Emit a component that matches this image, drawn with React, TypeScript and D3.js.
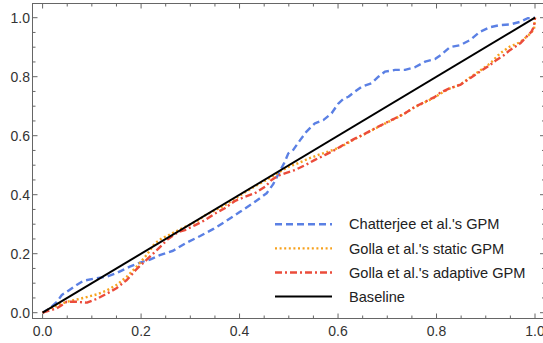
import React, { useEffect, useRef } from "react";
import * as d3 from "d3";

const chatterjee: [number, number][] = [
  [0, 0], [0.015, 0.015], [0.029, 0.037], [0.039, 0.06], [0.049, 0.071], [0.069, 0.094],
  [0.083, 0.108], [0.103, 0.115], [0.13, 0.122], [0.15, 0.134], [0.177, 0.156], [0.198, 0.17],
  [0.218, 0.18], [0.238, 0.195], [0.265, 0.21], [0.293, 0.238], [0.32, 0.26], [0.347, 0.284],
  [0.374, 0.312], [0.401, 0.342], [0.428, 0.372], [0.455, 0.405], [0.468, 0.435], [0.479, 0.47],
  [0.492, 0.512], [0.499, 0.54], [0.509, 0.552], [0.523, 0.585], [0.536, 0.614], [0.553, 0.642],
  [0.57, 0.653], [0.587, 0.676], [0.6, 0.708], [0.611, 0.725], [0.621, 0.732], [0.634, 0.749],
  [0.648, 0.766], [0.668, 0.778], [0.682, 0.8], [0.695, 0.817], [0.716, 0.823], [0.736, 0.823],
  [0.756, 0.832], [0.777, 0.851], [0.797, 0.86], [0.81, 0.875], [0.827, 0.9], [0.848, 0.907],
  [0.868, 0.924], [0.888, 0.952], [0.909, 0.968], [0.929, 0.975], [0.949, 0.977], [0.97, 0.986],
  [0.985, 0.998], [1, 1],
];

const gollaStatic: [number, number][] = [
  [0, 0], [0.022, 0.02], [0.049, 0.037], [0.083, 0.05], [0.11, 0.062], [0.13, 0.075],
  [0.15, 0.094], [0.171, 0.122], [0.191, 0.156], [0.211, 0.195], [0.228, 0.235], [0.242, 0.252],
  [0.255, 0.262], [0.276, 0.28], [0.296, 0.296], [0.316, 0.313], [0.33, 0.33], [0.35, 0.347],
  [0.37, 0.364], [0.39, 0.385], [0.408, 0.405], [0.431, 0.428], [0.455, 0.45], [0.479, 0.475],
  [0.499, 0.494], [0.519, 0.507], [0.54, 0.522], [0.56, 0.535], [0.58, 0.546], [0.6, 0.558],
  [0.614, 0.57], [0.634, 0.589], [0.655, 0.606], [0.675, 0.624], [0.695, 0.641], [0.716, 0.658],
  [0.736, 0.676], [0.756, 0.697], [0.777, 0.714], [0.797, 0.73], [0.807, 0.742], [0.827, 0.76],
  [0.848, 0.773], [0.868, 0.797], [0.888, 0.82], [0.909, 0.845], [0.929, 0.879], [0.949, 0.902],
  [0.97, 0.917], [0.987, 0.941], [0.998, 0.96], [1, 1],
];

const gollaAdaptive: [number, number][] = [
  [0, 0], [0.029, 0.015], [0.049, 0.037], [0.069, 0.037], [0.09, 0.034], [0.11, 0.047],
  [0.13, 0.064], [0.15, 0.083], [0.171, 0.111], [0.191, 0.148], [0.211, 0.179], [0.232, 0.212],
  [0.255, 0.25], [0.276, 0.274], [0.289, 0.28], [0.31, 0.297], [0.33, 0.314], [0.35, 0.336],
  [0.37, 0.354], [0.39, 0.378], [0.411, 0.393], [0.431, 0.405], [0.452, 0.427], [0.465, 0.45],
  [0.479, 0.465], [0.492, 0.472], [0.513, 0.484], [0.533, 0.5], [0.553, 0.518], [0.574, 0.535],
  [0.594, 0.552], [0.614, 0.572], [0.634, 0.59], [0.655, 0.607], [0.675, 0.625], [0.695, 0.642],
  [0.716, 0.659], [0.736, 0.676], [0.756, 0.698], [0.777, 0.715], [0.797, 0.732], [0.807, 0.745],
  [0.827, 0.761], [0.848, 0.772], [0.868, 0.795], [0.888, 0.817], [0.909, 0.84], [0.922, 0.857],
  [0.936, 0.872], [0.949, 0.89], [0.97, 0.913], [0.983, 0.936], [0.993, 0.953], [0.998, 0.97],
  [1, 1],
];

const baseline: [number, number][] = [[0, 0], [1, 1]];

const tickLabels = ["0.0", "0.2", "0.4", "0.6", "0.8", "1.0"];

const series = [
  { label: "Chatterjee et al.'s GPM", data: chatterjee, color: "#5b80e4", dash: "7,4", width: 2.4 },
  { label: "Golla et al.'s static GPM", data: gollaStatic, color: "#f7a21e", dash: "2,2.6", width: 2.4 },
  { label: "Golla et al.'s adaptive GPM", data: gollaAdaptive, color: "#eb4c3b", dash: "7,3,2,3", width: 2.4 },
  { label: "Baseline", data: baseline, color: "#000", dash: null, width: 2 },
];

const W = 543;
const H = 343;

export default function App() {
  const svgRef = useRef<SVGSVGElement>(null);

  useEffect(() => {
    if (!svgRef.current) return;
    const svg = d3.select(svgRef.current);
    svg.selectAll("*").remove();

    const x = d3.scaleLinear().domain([0, 1]).range([42.6, 535]);
    const y = d3.scaleLinear().domain([0, 1]).range([312.7, 17.7]);

    const frame = { left: 32.5, top: 3.5, right: 545, bottom: 318.5 };
    const axisColor = "#666";
    const font = "'Liberation Sans', Arial, sans-serif";

    // frame
    svg
      .append("rect")
      .attr("x", frame.left)
      .attr("y", frame.top)
      .attr("width", frame.right - frame.left)
      .attr("height", frame.bottom - frame.top)
      .attr("fill", "none")
      .attr("stroke", axisColor)
      .attr("stroke-width", 1);

    const minor = d3.range(0, 1.0001, 0.05);
    const g = svg.append("g").attr("stroke", axisColor).attr("stroke-width", 1);
    minor.forEach((v, i) => {
      const len = i % 4 === 0 ? 5 : 3;
      const px = x(v);
      const py = y(v);
      g.append("line").attr("x1", px).attr("x2", px).attr("y1", frame.bottom).attr("y2", frame.bottom - len);
      g.append("line").attr("x1", px).attr("x2", px).attr("y1", frame.top).attr("y2", frame.top + len);
      g.append("line").attr("y1", py).attr("y2", py).attr("x1", frame.left).attr("x2", frame.left + len);
      g.append("line").attr("y1", py).attr("y2", py).attr("x1", frame.right).attr("x2", frame.right - len);
    });

    tickLabels.forEach((t) => {
      const v = +t;
      svg
        .append("text")
        .attr("x", x(v))
        .attr("y", 336)
        .attr("text-anchor", "middle")
        .style("font-family", font)
        .style("font-size", "14px")
        .style("fill", "#333")
        .text(t);
      svg
        .append("text")
        .attr("x", 30)
        .attr("y", y(v))
        .attr("dy", "0.35em")
        .attr("text-anchor", "end")
        .style("font-family", font)
        .style("font-size", "14px")
        .style("fill", "#333")
        .text(t);
    });

    const line = d3
      .line<[number, number]>()
      .x((d) => x(d[0]))
      .y((d) => y(d[1]));

    series.forEach((s) => {
      svg
        .append("path")
        .attr("d", line(s.data))
        .attr("fill", "none")
        .attr("stroke", s.color)
        .attr("stroke-width", s.width)
        .attr("stroke-dasharray", s.dash)
        .attr("stroke-linejoin", "round");
    });

    // legend
    const lg = svg.append("g");
    series.forEach((s, i) => {
      const ly = 224.3 + i * 24.1;
      lg.append("line")
        .attr("x1", 275)
        .attr("x2", 332)
        .attr("y1", ly)
        .attr("y2", ly)
        .attr("stroke", s.color)
        .attr("stroke-width", s.width)
        .attr("stroke-dasharray", s.dash);
      lg.append("text")
        .attr("x", 349)
        .attr("y", ly)
        .attr("dy", "0.35em")
        .style("font-family", font)
        .style("font-size", "14.6px")
        .style("fill", "#222")
        .text(s.label);
    });
  }, []);

  return (
    <svg
      ref={svgRef}
      width={W}
      height={H}
      style={{ position: "absolute", left: 0, top: 0, background: "#fff" }}
    />
  );
}
